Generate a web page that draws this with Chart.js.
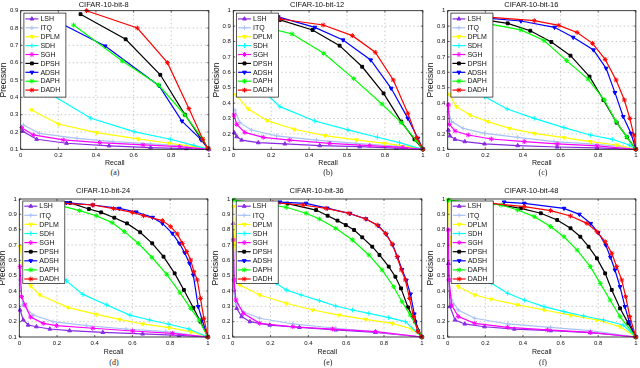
<!DOCTYPE html>
<html><head><meta charset="utf-8">
<script src="https://cdn.jsdelivr.net/npm/chart.js@4.4.1/dist/chart.umd.min.js"></script>
<style>
html,body{margin:0;padding:0;background:#fff;width:640px;height:368px;overflow:hidden;position:relative;}
canvas{position:absolute;}
.cap{position:absolute;font-family:'Liberation Serif','Times New Roman',serif;font-size:8px;line-height:8px;color:#222;transform:translateX(-50%);white-space:nowrap;}
</style></head><body>
<canvas id="c0" width="215" height="168" style="left:-2px;top:0px"></canvas>
<canvas id="c1" width="216" height="168" style="left:211px;top:0px"></canvas>
<canvas id="c2" width="215" height="168" style="left:425px;top:0px"></canvas>
<canvas id="c3" width="215" height="172" style="left:-3px;top:186px"></canvas>
<canvas id="c4" width="216" height="172" style="left:210px;top:186px"></canvas>
<canvas id="c5" width="215" height="172" style="left:425px;top:186px"></canvas>
<div class="cap" style="left:115px;top:169px">(a)</div>
<div class="cap" style="left:328px;top:169px">(b)</div>
<div class="cap" style="left:543px;top:169px">(c)</div>
<div class="cap" style="left:114px;top:359px">(d)</div>
<div class="cap" style="left:328px;top:359px">(e)</div>
<div class="cap" style="left:543px;top:359px">(f)</div>
<script>
// ---------- tick labels ----------
const xTickVals = [0, 0.2, 0.4, 0.6, 0.8, 1];
const xTickLabels = ['0', '0.2', '0.4', '0.6', '0.8', '1'];
const yTickVals = [0.1, 0.2, 0.3, 0.4, 0.5, 0.6, 0.7, 0.8, 0.9, 1];
const yTickLabels = ['0.1', '0.2', '0.3', '0.4', '0.5', '0.6', '0.7', '0.8', '0.9', '1'];
const yTickValsA = [0.1, 0.2, 0.3, 0.4, 0.5, 0.6, 0.7, 0.8, 0.9];
const yTickLabelsA = ['0.1', '0.2', '0.3', '0.4', '0.5', '0.6', '0.7', '0.8', '0.9'];
const methods = ['LSH', 'ITQ', 'DPLM', 'SDH', 'SGH', 'DPSH', 'ADSH', 'DAPH', 'DADH'];
const titles = ['CIFAR-10-bit-8', 'CIFAR-10-bit-12', 'CIFAR-10-bit-16', 'CIFAR-10-bit-24', 'CIFAR-10-bit-36', 'CIFAR-10-bit-48'];

// ---------- data: [recall, precision] ----------
// bit-8
const LSH_8  = [[0.01,0.205],[0.085,0.158],[0.244,0.135],[0.47,0.12],[0.69,0.11],[0.88,0.104],[1,0.1]];
const ITQ_8  = [[0.014,0.24],[0.1,0.192],[0.3,0.163],[0.49,0.144],[0.69,0.131],[0.88,0.12],[1,0.1]];
const DPLM_8 = [[0.058,0.327],[0.2,0.246],[0.403,0.196],[0.624,0.16],[0.79,0.135],[0.92,0.115],[1,0.1]];
const SDH_8  = [[0.08,0.47],[0.373,0.279],[0.602,0.202],[0.795,0.158],[0.92,0.123],[1,0.1]];
const SGH_8  = [[0.005,0.225],[0.067,0.183],[0.226,0.154],[0.42,0.138],[0.65,0.125],[0.845,0.115],[1,0.1]];
const DPSH_8 = [[0.318,0.88],[0.558,0.735],[0.742,0.53],[0.873,0.3],[0.96,0.16],[0.995,0.105]];
const ADSH_8 = [[0.22,0.823],[0.449,0.696],[0.735,0.467],[0.857,0.263],[0.96,0.154],[0.995,0.105]];
const DAPH_8 = [[0.281,0.817],[0.54,0.61],[0.733,0.471],[0.873,0.298],[0.968,0.158],[0.995,0.105]];
const DADH_8 = [[0.35,0.9],[0.62,0.8],[0.78,0.6],[0.894,0.335],[0.968,0.158],[0.995,0.105]];
// bit-12
const LSH_12  = [[0.005,0.208],[0.018,0.182],[0.044,0.16],[0.132,0.143],[0.272,0.135],[0.456,0.124],[0.667,0.117],[0.86,0.108],[1,0.1]];
const ITQ_12  = [[0.009,0.355],[0.035,0.273],[0.096,0.225],[0.228,0.187],[0.439,0.16],[0.649,0.139],[0.86,0.12],[1,0.1]];
const DPLM_12 = [[0.014,0.453],[0.079,0.362],[0.179,0.286],[0.321,0.23],[0.484,0.189],[0.649,0.161],[0.798,0.139],[0.93,0.117],[1,0.1]];
const SDH_12  = [[0.09,0.56],[0.246,0.377],[0.43,0.284],[0.605,0.226],[0.76,0.178],[0.877,0.143],[1,0.1]];
const SGH_12  = [[0.004,0.323],[0.018,0.262],[0.061,0.21],[0.158,0.178],[0.298,0.16],[0.509,0.139],[0.72,0.124],[0.895,0.113],[1,0.1]];
const DPSH_12 = [[0.246,0.94],[0.418,0.875],[0.561,0.773],[0.68,0.636],[0.793,0.463],[0.886,0.28],[0.956,0.165],[1,0.1]];
const ADSH_12 = [[0.237,0.96],[0.43,0.892],[0.579,0.81],[0.725,0.68],[0.833,0.496],[0.921,0.301],[0.974,0.171],[1,0.1]];
const DAPH_12 = [[0.193,0.885],[0.31,0.849],[0.477,0.723],[0.635,0.559],[0.784,0.394],[0.886,0.273],[0.965,0.16],[1,0.1]];
const DADH_12 = [[0.246,0.946],[0.474,0.907],[0.628,0.838],[0.749,0.73],[0.844,0.55],[0.921,0.334],[0.968,0.176],[1,0.1]];
// bit-16
const LSH_16  = [[0.004,0.225],[0.012,0.187],[0.039,0.165],[0.091,0.15],[0.196,0.135],[0.372,0.124],[0.582,0.115],[0.793,0.109],[1,0.1]];
const ITQ_16  = [[0.004,0.344],[0.021,0.28],[0.082,0.236],[0.196,0.204],[0.372,0.178],[0.565,0.15],[0.758,0.135],[0.933,0.117],[1,0.1]];
const DPLM_16 = [[0.009,0.457],[0.047,0.377],[0.118,0.323],[0.214,0.28],[0.328,0.236],[0.46,0.204],[0.618,0.176],[0.758,0.15],[0.898,0.128],[1,0.1]];
const SDH_16  = [[0.07,0.65],[0.196,0.442],[0.316,0.362],[0.46,0.301],[0.618,0.241],[0.758,0.193],[0.875,0.165],[0.965,0.128],[1,0.1]];
const SGH_16  = [[0.004,0.388],[0.009,0.262],[0.039,0.219],[0.109,0.193],[0.232,0.167],[0.407,0.15],[0.582,0.135],[0.793,0.122],[1,0.1]];
const DPSH_16 = [[0.205,0.939],[0.319,0.918],[0.439,0.87],[0.551,0.797],[0.653,0.708],[0.754,0.572],[0.828,0.42],[0.898,0.273],[0.954,0.178],[1,0.1]];
const ADSH_16 = [[0.223,0.95],[0.389,0.933],[0.568,0.892],[0.667,0.827],[0.775,0.745],[0.842,0.626],[0.889,0.468],[0.933,0.312],[0.974,0.204],[1,0.1]];
const DAPH_16 = [[0.205,0.918],[0.389,0.875],[0.512,0.806],[0.632,0.676],[0.746,0.556],[0.833,0.42],[0.895,0.28],[0.951,0.182],[1,0.1]];
const DADH_16 = [[0.232,0.957],[0.46,0.935],[0.591,0.905],[0.688,0.859],[0.77,0.788],[0.837,0.684],[0.895,0.55],[0.939,0.42],[0.968,0.301],[0.989,0.193],[1,0.1]];
// bit-24
const LSH_24  = [[0.004,0.276],[0.021,0.211],[0.047,0.178],[0.091,0.167],[0.162,0.152],[0.267,0.141],[0.443,0.13],[0.654,0.12],[0.847,0.111],[1,0.1]];
const ITQ_24  = [[0.004,0.472],[0.018,0.309],[0.074,0.243],[0.179,0.2],[0.355,0.174],[0.566,0.152],[0.777,0.135],[1,0.1]];
const DPLM_24 = [[0.004,0.689],[0.018,0.58],[0.06,0.433],[0.109,0.374],[0.258,0.293],[0.408,0.248],[0.531,0.215],[0.654,0.185],[0.794,0.161],[0.909,0.135],[1,0.1]];
const SDH_24  = [[0.1,0.66],[0.25,0.466],[0.337,0.378],[0.464,0.309],[0.587,0.243],[0.692,0.211],[0.794,0.183],[0.9,0.152],[1,0.1]];
const SGH_24  = [[0.004,0.559],[0.012,0.363],[0.03,0.309],[0.06,0.23],[0.127,0.189],[0.197,0.174],[0.39,0.157],[0.601,0.139],[0.812,0.124],[1,0.1]];
const DPSH_24 = [[0.27,0.975],[0.369,0.935],[0.434,0.913],[0.504,0.878],[0.571,0.841],[0.641,0.783],[0.705,0.711],[0.765,0.624],[0.824,0.515],[0.873,0.407],[0.923,0.291],[0.961,0.2],[1,0.1]];
const ADSH_24 = [[0.25,0.976],[0.39,0.961],[0.53,0.939],[0.62,0.915],[0.707,0.88],[0.759,0.841],[0.812,0.776],[0.849,0.711],[0.877,0.65],[0.903,0.58],[0.923,0.504],[0.949,0.298],[0.97,0.211],[1,0.1]];
const DAPH_24 = [[0.228,0.954],[0.32,0.924],[0.408,0.891],[0.492,0.846],[0.557,0.787],[0.631,0.711],[0.703,0.62],[0.782,0.509],[0.852,0.389],[0.909,0.287],[0.953,0.211],[1,0.1]];
const DADH_24 = [[0.236,0.972],[0.39,0.961],[0.5,0.937],[0.6,0.913],[0.659,0.891],[0.759,0.859],[0.803,0.82],[0.838,0.772],[0.865,0.711],[0.888,0.657],[0.909,0.602],[0.926,0.526],[0.944,0.472],[0.961,0.352],[0.979,0.222],[1,0.1]];
// bit-36
const LSH_36  = [[0.003,0.841],[0.007,0.407],[0.021,0.287],[0.047,0.233],[0.091,0.2],[0.196,0.178],[0.353,0.163],[0.545,0.146],[0.755,0.13],[1,0.1]];
const ITQ_36  = [[0.003,0.407],[0.021,0.32],[0.056,0.265],[0.143,0.222],[0.318,0.185],[0.545,0.157],[0.755,0.135],[1,0.1]];
const DPLM_36 = [[0.003,0.95],[0.01,0.7],[0.038,0.439],[0.143,0.374],[0.283,0.32],[0.423,0.276],[0.563,0.243],[0.703,0.215],[0.843,0.189],[0.948,0.152],[1,0.1]];
const SDH_36  = [[0.1,0.6],[0.23,0.45],[0.283,0.407],[0.362,0.374],[0.458,0.337],[0.545,0.302],[0.633,0.276],[0.72,0.254],[0.825,0.226],[0.913,0.2],[1,0.1]];
const SGH_36  = [[0.003,0.733],[0.007,0.472],[0.017,0.341],[0.056,0.254],[0.143,0.189],[0.318,0.167],[0.528,0.152],[0.755,0.135],[1,0.1]];
const DPSH_36 = [[0.29,0.97],[0.441,0.928],[0.502,0.891],[0.554,0.859],[0.598,0.83],[0.642,0.798],[0.685,0.75],[0.738,0.689],[0.776,0.635],[0.825,0.559],[0.86,0.493],[0.89,0.417],[0.927,0.293],[0.965,0.2],[1,0.1]];
const ADSH_36 = [[0.25,0.98],[0.388,0.972],[0.5,0.94],[0.62,0.905],[0.705,0.87],[0.77,0.825],[0.812,0.77],[0.846,0.7],[0.872,0.62],[0.895,0.54],[0.918,0.47],[0.94,0.38],[0.96,0.25],[0.98,0.14],[1,0.1]];
const DAPH_36 = [[0.007,0.993],[0.143,0.972],[0.283,0.946],[0.388,0.907],[0.458,0.87],[0.545,0.809],[0.633,0.733],[0.72,0.635],[0.79,0.537],[0.851,0.428],[0.895,0.33],[0.939,0.243],[1,0.1]];
const DADH_36 = [[0.213,0.976],[0.371,0.961],[0.493,0.939],[0.615,0.907],[0.703,0.87],[0.764,0.83],[0.808,0.776],[0.843,0.707],[0.869,0.624],[0.892,0.537],[0.913,0.472],[0.935,0.352],[0.956,0.233],[0.979,0.135],[1,0.1]];
// bit-48
const LSH_48  = [[0.004,0.58],[0.012,0.298],[0.039,0.211],[0.091,0.185],[0.196,0.167],[0.354,0.152],[0.547,0.141],[0.758,0.128],[1,0.1]];
const ITQ_48  = [[0.004,0.472],[0.021,0.341],[0.056,0.276],[0.144,0.222],[0.319,0.185],[0.547,0.163],[0.758,0.141],[1,0.1]];
const DPLM_48 = [[0.004,0.993],[0.01,0.75],[0.056,0.428],[0.144,0.374],[0.232,0.346],[0.372,0.309],[0.512,0.276],[0.653,0.243],[0.793,0.211],[0.916,0.167],[1,0.1]];
const SDH_48  = [[0.1,0.6],[0.232,0.45],[0.319,0.385],[0.407,0.341],[0.512,0.298],[0.618,0.265],[0.723,0.237],[0.828,0.211],[0.933,0.178],[1,0.1]];
const SGH_48  = [[0.004,0.798],[0.007,0.472],[0.021,0.309],[0.056,0.233],[0.144,0.189],[0.319,0.163],[0.53,0.146],[0.758,0.13],[1,0.1]];
const DPSH_48 = [[0.232,0.972],[0.389,0.939],[0.495,0.907],[0.582,0.863],[0.653,0.809],[0.705,0.754],[0.749,0.689],[0.793,0.613],[0.837,0.515],[0.872,0.407],[0.916,0.287],[0.96,0.189],[1,0.1]];
const ADSH_48 = [[0.3,0.98],[0.407,0.972],[0.618,0.939],[0.7,0.9],[0.76,0.84],[0.8,0.78],[0.84,0.7],[0.865,0.62],[0.889,0.537],[0.916,0.428],[0.942,0.298],[0.965,0.2],[1,0.1]];
const DAPH_48 = [[0.004,0.993],[0.284,0.961],[0.372,0.928],[0.46,0.885],[0.547,0.82],[0.618,0.754],[0.688,0.667],[0.758,0.559],[0.811,0.45],[0.863,0.341],[0.916,0.233],[1,0.1]];
const DADH_48 = [[0.232,0.972],[0.407,0.95],[0.547,0.924],[0.653,0.889],[0.74,0.841],[0.793,0.787],[0.837,0.722],[0.872,0.646],[0.898,0.559],[0.925,0.472],[0.946,0.363],[0.968,0.233],[1,0.1]];

const panelSeries = [
  [LSH_8, ITQ_8, DPLM_8, SDH_8, SGH_8, DPSH_8, ADSH_8, DAPH_8, DADH_8],
  [LSH_12, ITQ_12, DPLM_12, SDH_12, SGH_12, DPSH_12, ADSH_12, DAPH_12, DADH_12],
  [LSH_16, ITQ_16, DPLM_16, SDH_16, SGH_16, DPSH_16, ADSH_16, DAPH_16, DADH_16],
  [LSH_24, ITQ_24, DPLM_24, SDH_24, SGH_24, DPSH_24, ADSH_24, DAPH_24, DADH_24],
  [LSH_36, ITQ_36, DPLM_36, SDH_36, SGH_36, DPSH_36, ADSH_36, DAPH_36, DADH_36],
  [LSH_48, ITQ_48, DPLM_48, SDH_48, SGH_48, DPSH_48, ADSH_48, DAPH_48, DADH_48]
];

// ---------- styles & layout ----------
const NARROW = "'Liberation Sans Narrow','Arial Narrow','Liberation Sans',Arial,sans-serif";
const styleOf = {
  LSH:  {c:'#8a2be2', ps:'triangle', rot:0,   r:2.2},
  ITQ:  {c:'#a9c1f5', ps:'cross',    rot:0,   r:2.2},
  DPLM: {c:'#ffff00', ps:'triangle', rot:180, r:2.2},
  SDH:  {c:'#00ffff', ps:'cross',    rot:0,   r:2.4},
  SGH:  {c:'#ff00ff', ps:'star',     rot:0,   r:2.4},
  DPSH: {c:'#000000', ps:'rect',     rot:0,   r:2.0},
  ADSH: {c:'#0000ff', ps:'triangle', rot:180, r:2.2},
  DAPH: {c:'#00ff00', ps:'star',     rot:0,   r:2.4},
  DADH: {c:'#ff0000', ps:'star',     rot:0,   r:2.4}
};
const legTop = {dx:3.2, dy:2.4, first:5.8, step:8.9, w:42, h:84};
const legBot = {dx:3.5, dy:2.0, first:5.2, step:9.1, w:42, h:82.5};
const geom = [
  {yw:22.7, pr:3.7, xh:18.7, tpb:1.7, xtb:1.1, ymax:0.9, yv:yTickValsA, yl:yTickLabelsA, lg:legTop},
  {yw:22.3, pr:3.7, xh:18.7, tpb:1.7, xtb:1.1, ymax:1,   yv:yTickVals,  yl:yTickLabels,  lg:legTop},
  {yw:22.7, pr:2.3, xh:18.7, tpb:1.7, xtb:1.1, ymax:1,   yv:yTickVals,  yl:yTickLabels,  lg:legTop},
  {yw:22.3, pr:3.0, xh:21,   tpb:4,   xtb:2.1, ymax:1,   yv:yTickVals,  yl:yTickLabels,  lg:legBot},
  {yw:22.7, pr:2.7, xh:21,   tpb:4,   xtb:2.1, ymax:1,   yv:yTickVals,  yl:yTickLabels,  lg:legBot},
  {yw:22.7, pr:2.3, xh:21,   tpb:4,   xtb:2.1, ymax:1,   yv:yTickVals,  yl:yTickLabels,  lg:legBot}
];

const matlabAxes = {
  id: 'matlabAxes',
  beforeDatasetsDraw(chart, args, opts) {
    const {ctx, chartArea: ca, scales: {x, y}} = chart;
    ctx.save();
    ctx.strokeStyle = '#a8a8a8'; ctx.lineWidth = 0.6; ctx.setLineDash([1.5, 2.5]);
    ctx.beginPath();
    xTickVals.forEach(v => { if (v <= x.min || v >= x.max) return; const px = x.getPixelForValue(v); ctx.moveTo(px, ca.top); ctx.lineTo(px, ca.bottom); });
    opts.yVals.forEach(v => { if (v <= y.min + 1e-9 || v >= y.max - 1e-9) return; const py = y.getPixelForValue(v); ctx.moveTo(ca.left, py); ctx.lineTo(ca.right, py); });
    ctx.stroke();
    ctx.restore();
  },
  afterDatasetsDraw(chart, args, opts) {
    const {ctx, chartArea: ca, scales: {x, y}} = chart;
    ctx.save();
    ctx.strokeStyle = '#222'; ctx.lineWidth = 0.6; ctx.setLineDash([]);
    ctx.beginPath();
    xTickVals.forEach(v => { const px = x.getPixelForValue(v); ctx.moveTo(px, ca.bottom); ctx.lineTo(px, ca.bottom - 2); ctx.moveTo(px, ca.top); ctx.lineTo(px, ca.top + 2); });
    opts.yVals.forEach(v => { const py = y.getPixelForValue(v); ctx.moveTo(ca.left, py); ctx.lineTo(ca.left + 2, py); ctx.moveTo(ca.right, py); ctx.lineTo(ca.right - 2, py); });
    ctx.stroke();
    ctx.strokeStyle = '#111'; ctx.lineWidth = 0.8;
    ctx.strokeRect(ca.left, ca.top, ca.right - ca.left, ca.bottom - ca.top);
    const lg = opts.legend;
    const x0 = ca.left + lg.dx, y0 = ca.top + lg.dy;
    ctx.fillStyle = '#fff'; ctx.fillRect(x0, y0, lg.w, lg.h);
    ctx.strokeStyle = '#111'; ctx.lineWidth = 0.7; ctx.strokeRect(x0, y0, lg.w, lg.h);
    methods.forEach((m, i) => {
      const st = styleOf[m];
      const cy = y0 + lg.first + i * lg.step;
      ctx.strokeStyle = st.c; ctx.lineWidth = 1.2;
      ctx.beginPath(); ctx.moveTo(x0 + 1.5, cy); ctx.lineTo(x0 + 14.5, cy); ctx.stroke();
      ctx.fillStyle = st.c; ctx.lineWidth = 1;
      Chart.helpers.drawPoint(ctx, {pointStyle: st.ps, rotation: st.rot, radius: st.r, borderWidth: 1}, x0 + 8, cy);
      ctx.fillStyle = '#111'; ctx.font = '7px ' + NARROW; ctx.textBaseline = 'middle'; ctx.textAlign = 'left';
      ctx.fillText(m, x0 + 16.5, cy + 0.3);
    });
    ctx.restore();
  }
};

panelSeries.forEach((series, k) => {
  const g = geom[k];
  const datasets = series.map((arr, i) => {
    const st = styleOf[methods[i]];
    return {
      label: methods[i],
      data: arr.map(p => ({x: p[0], y: p[1]})),
      showLine: true, tension: 0, clip: false,
      borderColor: st.c, backgroundColor: st.c, borderWidth: 1.2,
      pointStyle: st.ps, pointRotation: st.rot, pointRadius: st.r, pointHoverRadius: st.r,
      pointBorderWidth: 1, pointBackgroundColor: st.c, pointBorderColor: st.c,
      order: methods.length - 1 - i
    };
  });
  new Chart(document.getElementById('c' + k), {
    type: 'scatter',
    data: {datasets},
    plugins: [matlabAxes],
    options: {
      responsive: false, animation: false, devicePixelRatio: 1,
      events: [],
      layout: {padding: {left: 0, top: 0, right: g.pr, bottom: 0}, autoPadding: false},
      plugins: {
        legend: {display: false}, tooltip: {enabled: false},
        title: {display: true, text: titles[k], color: '#111',
          font: {family: NARROW, size: 7.5, weight: 'normal', lineHeight: 1.2},
          padding: {top: 0, bottom: g.tpb}},
        matlabAxes: {yVals: g.yv, legend: g.lg}
      },
      scales: {
        x: {
          type: 'linear', min: 0, max: 1,
          grid: {display: false, drawTicks: false, tickLength: 0}, border: {display: false},
          afterBuildTicks: s => { s.ticks = xTickVals.map(v => ({value: v})); },
          afterFit: s => { s.height = g.xh; },
          ticks: {autoSkip: false, maxRotation: 0, padding: 2.5, color: '#111',
            font: {family: NARROW, size: 6}, callback: (v, i) => xTickLabels[i]},
          title: {display: true, text: 'Recall', color: '#111',
            font: {family: NARROW, size: 7, lineHeight: 1.2}, padding: {top: 0, bottom: g.xtb}}
        },
        y: {
          type: 'linear', min: 0.1, max: g.ymax,
          grid: {display: false, drawTicks: false, tickLength: 0}, border: {display: false},
          afterBuildTicks: s => { s.ticks = g.yv.map(v => ({value: v})); },
          afterFit: s => { s.width = g.yw; },
          ticks: {autoSkip: false, padding: 2.4, color: '#111',
            font: {family: NARROW, size: 6}, callback: (v, i) => g.yl[i]},
          title: {display: true, text: 'Precision', color: '#111',
            font: {family: "'Liberation Sans',Arial,sans-serif", size: 8.5, lineHeight: 0.8},
            padding: {top: g.yw - 20.4, bottom: 0}}
        }
      }
    }
  });
});
</script>
</body></html>
